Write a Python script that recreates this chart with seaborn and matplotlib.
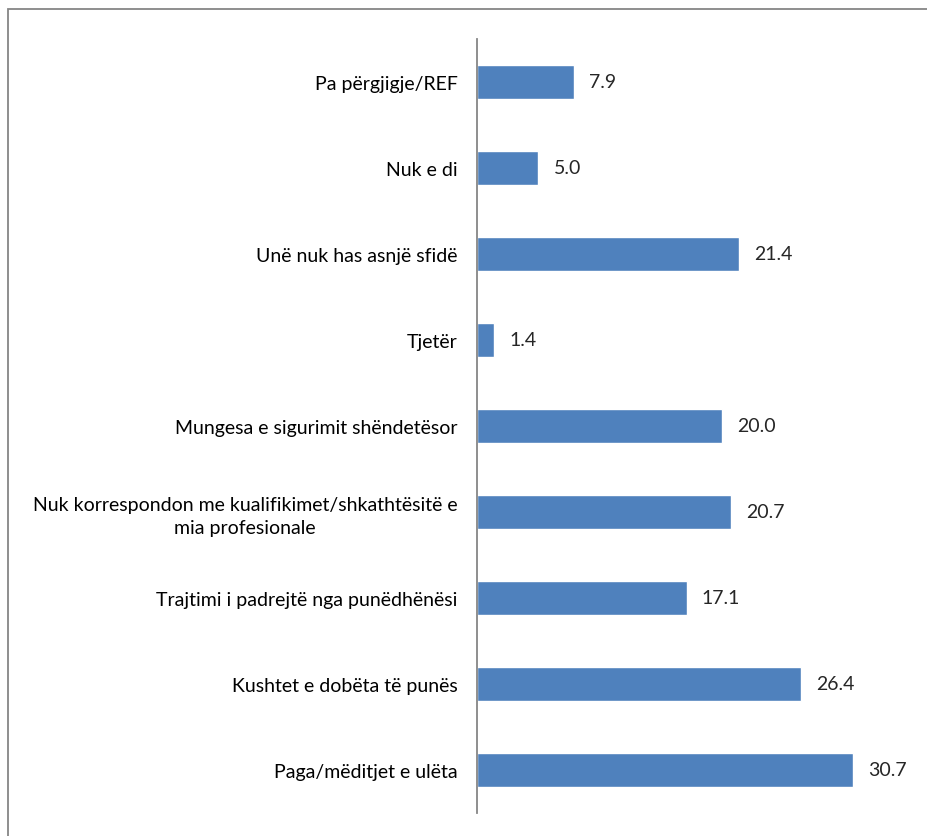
import matplotlib
matplotlib.use("Agg")
import matplotlib.pyplot as plt
import seaborn as sns
from matplotlib.patches import Rectangle

categories = [
    "Pa përgjigje/REF",
    "Nuk e di",
    "Unë nuk has asnjë sfidë",
    "Tjetër",
    "Mungesa e sigurimit shëndetësor",
    "Nuk korrespondon me kualifikimet/shkathtësitë e\nmia profesionale",
    "Trajtimi i padrejtë nga punëdhënësi",
    "Kushtet e dobëta të punës",
    "Paga/mëditjet e ulëta",
]
values = [7.9, 5.0, 21.4, 1.4, 20.0, 20.7, 17.1, 26.4, 30.7]

sns.set_style("white")
plt.rcParams['font.family'] = ['Lato', 'DejaVu Sans']

fig = plt.figure(figsize=(9.27, 8.37), dpi=100)
ax = fig.add_axes([477 / 927, 1 - 814 / 837, (906 - 477) / 927, (814 - 40) / 837])

sns.barplot(x=values, y=categories, color="#4F81BD", saturation=1, width=0.4, ax=ax)

ax.set_xlim(0, 35)
ax.set_xlabel("")
ax.set_ylabel("")
ax.set_xticks([])
for s in ["top", "right", "bottom"]:
    ax.spines[s].set_visible(False)
ax.spines["left"].set_color("#868686")
ax.spines["left"].set_linewidth(1.3)
ax.tick_params(axis="y", length=0, pad=14, labelsize=14, colors="black")
for lbl in ax.get_yticklabels():
    lbl.set_multialignment("center")
    lbl.set_linespacing(1.4)

ax.bar_label(ax.containers[0], fmt="%.1f", padding=11, fontsize=14)

# outer chart border (right/bottom edges cut off in the original)
fig.patches.append(Rectangle((8 / 927, -0.05), 1.1, 1 - 10 / 837 + 0.05,
                             transform=fig.transFigure, fill=False,
                             edgecolor="#868686", linewidth=1.3))

fig.savefig("out.png", dpi=100)
